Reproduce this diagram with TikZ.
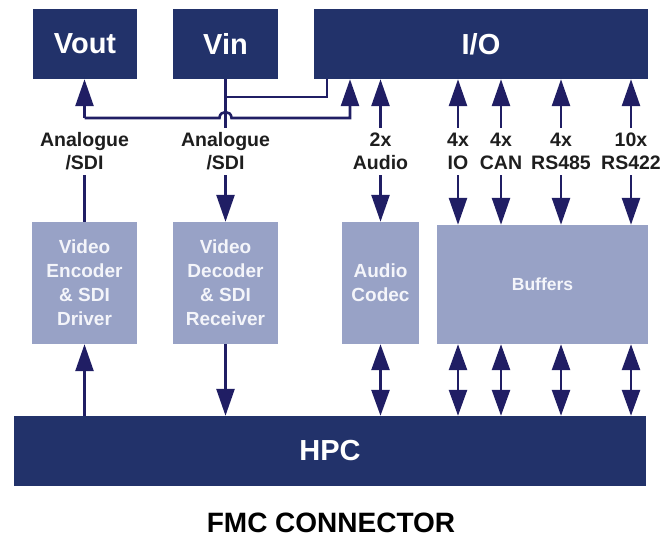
\documentclass[tikz,border=0pt]{standalone}
\usepackage{fontspec}
\setmainfont{Liberation Sans}
\usetikzlibrary{arrows.meta,calc}
\definecolor{navy}{HTML}{22326A}
\definecolor{arrowc}{HTML}{201E64}
\definecolor{lightbox}{HTML}{98A2C6}
\definecolor{lbltext}{HTML}{1E1E1E}
\definecolor{boxtext}{HTML}{F4F5FA}
\begin{document}
\begin{tikzpicture}[x=1pt,y=-1pt,
  darkbox/.style={fill=navy, text=white, font=\bfseries\fontsize{29}{32}\selectfont, inner sep=0pt},
  lightbx/.style={fill=lightbox, text=boxtext, font=\bfseries\fontsize{19}{24}\selectfont, align=center, inner sep=0pt},
  lbl/.style={text=lbltext, font=\bfseries\fontsize{19.5}{23}\selectfont, align=center, inner sep=0pt, minimum height=47pt},
  conn/.style={draw=arrowc, line width=2.6pt},
  arr/.style={conn, -{Triangle[length=27pt,width=18pt]}},
  darr/.style={conn, {Triangle[length=26pt,width=18pt]}-{Triangle[length=26pt,width=18pt]}},
]
\useasboundingbox (0,0) rectangle (666,539);

% top boxes
\node[darkbox, minimum width=104pt, minimum height=70pt] (vout) at (85,44) {Vout};
\node[darkbox, minimum width=105pt, minimum height=70pt] (vin) at (225.5,44) {Vin};
\node[darkbox, minimum width=334pt, minimum height=70pt] (io) at (481,44) {I/O};

% middle boxes
\node[lightbx, minimum width=105pt, minimum height=122pt] (enc) at (84.5,283) {Video\\Encoder\\\& SDI\\Driver};
\node[lightbx, minimum width=105pt, minimum height=122pt] (dec) at (225.5,283) {Video\\Decoder\\\& SDI\\Receiver};
\node[lightbx, minimum width=77pt, minimum height=122pt] (codec) at (380.5,283) {Audio\\Codec};
\node[lightbx, minimum width=211pt, minimum height=119pt, font=\bfseries\fontsize{17.5}{20}\selectfont] (buf) at (542.5,284.5) {Buffers};

% bottom
\node[darkbox, minimum width=632pt, minimum height=70pt] (hpc) at (330,451) {HPC};
\node[text=black, font=\bfseries\fontsize{28}{32}\selectfont, inner sep=0pt] (fmc) at (331,523) {FMC CONNECTOR};

% labels
\node[lbl] (l1) at (84.5,151.5) {Analogue\\/SDI};
\node[lbl] (l2) at (225.5,151.5) {Analogue\\/SDI};
\node[lbl] (l3) at (380.5,151.5) {2x\\Audio};
\node[lbl] (l4) at (458,151.5) {4x\\IO};
\node[lbl] (l5) at (501,151.5) {4x\\CAN};
\node[lbl] (l6) at (561,151.5) {4x\\RS485};
\node[lbl] (l7) at (631,151.5) {10x\\RS422};

% helper coordinates
\coordinate (h1) at (0,118);
\coordinate (h2) at (0,97);
\coordinate (ja) at (l1.north |- h1);
\coordinate (jb) at (350,118);
\coordinate (hop) at (vin.south |- h1);
\coordinate (jc) at (vin.south |- h2);
\coordinate (jd) at (327,97);

% Vout / I/O feed from encoder path (with hop over Vin line)
\draw[arr] (ja) -- (ja |- vout.south);
\draw[arr] (ja) -- ($(hop)+(-6,0)$) .. controls ($(hop)+(-6,-8)$) and ($(hop)+(6,-8)$) .. ($(hop)+(6,0)$) -- (jb) -- (jb |- io.south);

% Vin lines
\draw[conn] (vin.south) -- (vin.south |- l2.north);
\draw[conn] (jc) -- (jd) -- (jd |- io.south);

% label to middle boxes
\draw[conn] (l1.south) -- (l1.south |- enc.north);
\draw[arr] (l2.south) -- (l2.south |- dec.north);
\draw[arr] (l3.north) -- (l3.north |- io.south);
\draw[arr] (l3.south) -- (l3.south |- codec.north);
\foreach \l in {l4,l5,l6,l7}{
  \draw[arr] (\l.north) -- (\l.north |- io.south);
  \draw[arr] (\l.south) -- (\l.south |- buf.north);
  \draw[darr] (\l.south |- buf.south) -- (\l.south |- hpc.north);
}

% middle boxes to HPC
\draw[arr] (enc.south |- hpc.north) -- (enc.south);
\draw[arr] (dec.south) -- (dec.south |- hpc.north);
\draw[darr] (codec.south) -- (codec.south |- hpc.north);
\end{tikzpicture}
\end{document}
